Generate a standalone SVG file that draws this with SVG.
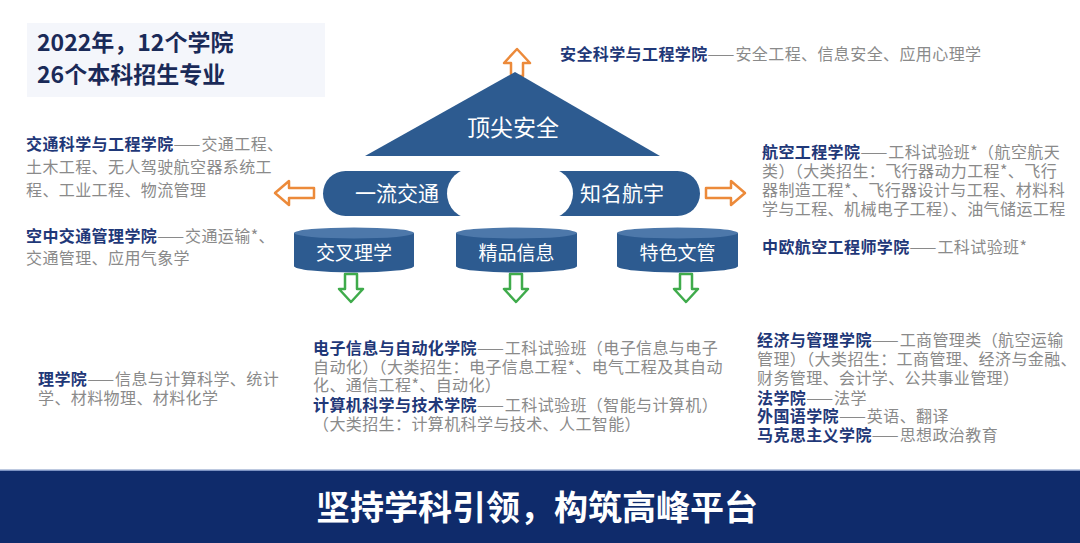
<svg xmlns="http://www.w3.org/2000/svg" width="1080" height="543" viewBox="0 0 1080 543">
<style>
text{font-family:"Noto Sans CJK SC","Noto Sans",sans-serif;}
.t{font-size:16px;fill:#8a8a8a;letter-spacing:0.4px;}
.b{font-weight:bold;fill:#1f3878;}
.d{letter-spacing:1px;}
.w{fill:#fff;}
.oa{fill:#fff;stroke:#ec8a3a;stroke-width:2.5;stroke-linejoin:round;}
.ga{fill:#fff;stroke:#3fab4b;stroke-width:2.5;stroke-linejoin:round;}
.blue{fill:#2d5b90;}
.ctop{fill:#4d78aa;}
</style>
<rect x="0" y="0" width="1080" height="543" fill="#fff"/>

<g id="title">
<rect x="27" y="23" width="298" height="74" fill="#f4f6fb"/>
<text x="37" y="51" font-size="23" font-weight="bold" fill="#1a2a58">2022年，12个学院</text>
<text x="37" y="83" font-size="23" font-weight="bold" fill="#1a2a58">26个本科招生专业</text>
</g>

<g id="connectors">
<path class="oa" d="M517,49 L530,63 L523,63 L523,76 L511,76 L511,63 L504,63 Z"/>
<path class="oa" d="M275,193 L289,181 L289,188 L314,188 L314,198 L289,198 L289,205 Z"/>
<path class="oa" d="M745,193 L731,181 L731,188 L706,188 L706,198 L731,198 L731,205 Z"/>
<path class="ga" d="M345,274 L357,274 L357,289 L363,289 L351,302 L339,289 L345,289 Z"/>
<path class="ga" d="M510,274 L522,274 L522,289 L528,289 L516,302 L504,289 L510,289 Z"/>
<path class="ga" d="M680,274 L692,274 L692,289 L698,289 L686,302 L674,289 L680,289 Z"/>
</g>

<g id="peak">
<path class="blue" d="M515,72 L660,156 L365,156 Z"/>
<text x="513" y="136" font-size="23" text-anchor="middle" class="w">顶尖安全</text>
</g>

<g id="pills">
<rect x="323" y="171" width="377" height="45" rx="22.5" class="blue"/>
<rect x="447" y="168" width="126" height="51" rx="25.5" fill="#fff"/>
</g>
<g id="node-traffic">
<text x="397" y="201" font-size="21" text-anchor="middle" class="w">一流交通</text>
</g>
<g id="node-aero">
<text x="622" y="201" font-size="21" text-anchor="middle" class="w">知名航宇</text>
</g>

<g id="node-science">
<path class="blue" d="M294,233 L294,266 A60,6.5 0 0 0 414,266 L414,233 Z"/>
<ellipse cx="354" cy="233" rx="60" ry="5.5" class="ctop"/>
<text x="354" y="260" font-size="19" text-anchor="middle" class="w">交叉理学</text>
</g>
<g id="node-info">
<path class="blue" d="M456,233 L456,266 A60.5,6.5 0 0 0 577,266 L577,233 Z"/>
<ellipse cx="516.5" cy="233" rx="60.5" ry="5.5" class="ctop"/>
<text x="516.5" y="260" font-size="19" text-anchor="middle" class="w">精品信息</text>
</g>
<g id="node-arts">
<path class="blue" d="M617,233 L617,266 A60.5,6.5 0 0 0 738,266 L738,233 Z"/>
<ellipse cx="677.5" cy="233" rx="60.5" ry="5.5" class="ctop"/>
<text x="677.5" y="260" font-size="19" text-anchor="middle" class="w">特色文管</text>
</g>

<g id="safety">
<text x="560" y="60" class="t"><tspan class="b">安全科学与工程学院</tspan><tspan class="d">——</tspan>安全工程、信息安全、应用心理学</text>
</g>

<g id="left-blocks">
<text x="26" y="150" class="t"><tspan class="b">交通科学与工程学院</tspan><tspan class="d">——</tspan>交通工程、</text>
<text x="26" y="173" class="t">土木工程、无人驾驶航空器系统工</text>
<text x="26" y="196" class="t">程、工业工程、物流管理</text>
<text x="26" y="242" class="t"><tspan class="b">空中交通管理学院</tspan><tspan class="d">——</tspan>交通运输*、</text>
<text x="26" y="264" class="t">交通管理、应用气象学</text>
</g>

<g id="right-blocks">
<text x="762" y="158" class="t"><tspan class="b">航空工程学院</tspan><tspan class="d">——</tspan>工科试验班*（航空航天</text>
<text x="762" y="177" class="t">类）（大类招生：飞行器动力工程*、飞行</text>
<text x="762" y="196" class="t">器制造工程*、飞行器设计与工程、材料科</text>
<text x="762" y="215" class="t">学与工程、机械电子工程）、油气储运工程</text>
<text x="762" y="253" class="t"><tspan class="b">中欧航空工程师学院</tspan><tspan class="d">——</tspan>工科试验班*</text>
</g>

<g id="science-school">
<text x="38" y="385" class="t"><tspan class="b">理学院</tspan><tspan class="d">——</tspan>信息与计算科学、统计</text>
<text x="38" y="404" class="t">学、材料物理、材料化学</text>
</g>

<g id="center-blocks">
<text x="313" y="354" class="t"><tspan class="b">电子信息与自动化学院</tspan><tspan class="d">——</tspan>工科试验班（电子信息与电子</text>
<text x="313" y="373" class="t">自动化）（大类招生：电子信息工程*、电气工程及其自动</text>
<text x="313" y="391" class="t">化、通信工程*、自动化）</text>
<text x="313" y="411" class="t"><tspan class="b">计算机科学与技术学院</tspan><tspan class="d">——</tspan>工科试验班（智能与计算机）</text>
<text x="313" y="430" class="t">（大类招生：计算机科学与技术、人工智能）</text>
</g>

<g id="econ-blocks">
<text x="757" y="346" class="t"><tspan class="b">经济与管理学院</tspan><tspan class="d">——</tspan>工商管理类（航空运输</text>
<text x="757" y="365" class="t">管理）（大类招生：工商管理、经济与金融、</text>
<text x="757" y="384" class="t">财务管理、会计学、公共事业管理）</text>
<text x="757" y="404" class="t"><tspan class="b">法学院</tspan><tspan class="d">——</tspan>法学</text>
<text x="757" y="422" class="t"><tspan class="b">外国语学院</tspan><tspan class="d">——</tspan>英语、翻译</text>
<text x="757" y="441" class="t"><tspan class="b">马克思主义学院</tspan><tspan class="d">——</tspan>思想政治教育</text>
</g>

<g id="banner">
<rect x="0" y="471" width="1080" height="72" fill="#0f2b6b"/>
<rect x="0" y="469.5" width="1080" height="1.5" fill="#7d93c2"/>
<text x="537" y="520" font-size="34" font-weight="bold" text-anchor="middle" class="w">坚持学科引领，构筑高峰平台</text>
</g>
</svg>
